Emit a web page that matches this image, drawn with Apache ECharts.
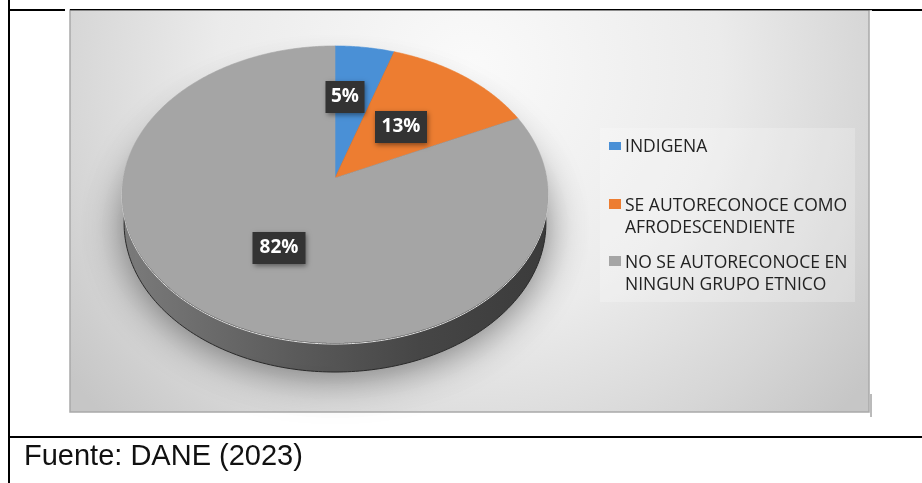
<!DOCTYPE html>
<html><head><meta charset="utf-8">
<style>html,body{margin:0;padding:0;background:#fff}#c{width:922px;height:483px}</style>
<script src="https://cdn.jsdelivr.net/npm/echarts@6/dist/echarts.min.js"></script>
</head><body><div id="c"></div>
<script>
const categories = ['INDIGENA', 'SE AUTORECONOCE COMO\nAFRODESCENDIENTE', 'NO SE AUTORECONOCE EN\nNINGUN GRUPO ETNICO'];
const shares = [5, 13, 82];
const sourceNote = 'Fuente: DANE (2023)';

const colors = ['#4a90d6', '#ed7d31', '#a5a5a5'];
const total = shares.reduce((a, b) => a + b, 0);
const CX = 335, CY = 178, A = 211.7, B = 146.7, K = 0.111, DEPTH = 29;
const labelCentres = [[345, 97], [401, 127], [279, 248]];

function project(theta, f, dy, sx) {
  const X = Math.sin(theta) * f, Y = Math.cos(theta) * f, w = 1 + K * Y;
  return [CX + A * X / w * (sx || 1), CY - B * Y / w + (dy || 0)];
}
function ring(dy, sx) {
  const p = [];
  for (let i = 0; i < 360; i++) p.push(project(i * Math.PI / 180, 1, dy, sx));
  return p;
}
function sliceAngles(i) {
  const before = shares.slice(0, i).reduce((a, b) => a + b, 0);
  return [before / total * 2 * Math.PI, (before + shares[i]) / total * 2 * Math.PI];
}

function renderPie(params, api) {
  const i = api.value(2);
  const [t0, t1] = sliceAngles(i);
  const pts = [[CX, CY]];
  const n = Math.max(8, Math.round((t1 - t0) * 120));
  for (let s = 0; s <= n; s++) pts.push(project(t0 + (t1 - t0) * s / n, 1));
  const children = [];
  if (i === 0) {
    children.push({
      type: 'polygon', shape: { points: ring(DEPTH, 0.99) },
      style: {
        fill: new echarts.graphic.LinearGradient(0, 0, 1, 0, [
          { offset: 0, color: '#7c7c7c' }, { offset: 0.4, color: '#5c5c5c' },
          { offset: 0.7, color: '#474747' }, { offset: 1, color: '#3c3c3c' }]),
        stroke: '#2a2a2a', lineWidth: 1,
        shadowBlur: 40, shadowColor: 'rgba(0,0,0,0.5)', shadowOffsetY: 4
      }
    });
    children.push({
      type: 'polygon', shape: { points: ring(1) },
      style: { fill: '#1f1f1f', stroke: '#e4e4e4', lineWidth: 1 }
    });
  }
  children.push({
    type: 'polygon', shape: { points: pts },
    style: { fill: colors[i], stroke: colors[i], lineWidth: 0.6 }
  });
  return { type: 'group', children };
}

function renderLabels(params, api) {
  const i = api.value(2);
  const [x, y] = labelCentres[i];
  const w = shares[i] < 10 ? 39 : (i === 1 ? 52 : 53), h = 32;
  return {
    type: 'group', z2: 50, children: [
      { type: 'rect', shape: { x: x - w / 2, y: y - h / 2, width: w, height: h },
        style: { fill: '#333333', shadowBlur: 5, shadowColor: 'rgba(0,0,0,0.45)', shadowOffsetX: 1, shadowOffsetY: 2 } },
      { type: 'text', x, y,
        style: { text: api.value(1) + '%', fill: '#ffffff', font: 'bold 19px "Open Sans"', align: 'center', verticalAlign: 'middle' } }
    ]
  };
}

const legendRows = [145, 204, 261];
const legendGraphics = [];
categories.forEach((c, i) => {
  legendGraphics.push({ type: 'rect', z: 10, shape: { x: 609, y: legendRows[i] - (i === 0 ? 3 : 5), width: 12, height: i === 0 ? 8 : 10 }, style: { fill: colors[i] } });
  legendGraphics.push({ type: 'text', z: 10, x: 625, y: legendRows[i] - 9,
    style: { text: c, fill: '#222222', font: '17.5px "Open Sans"', lineHeight: 22 } });
});

const chart = echarts.init(document.getElementById('c'));
chart.setOption({
  animation: false,
  backgroundColor: '#ffffff',
  graphic: [
    { type: 'rect', z: 0, shape: { x: 70, y: 10, width: 799, height: 402 },
      style: {
        fill: new echarts.graphic.RadialGradient(0.5, 0.15, 1.25, [
          { offset: 0, color: '#fafafa' }, { offset: 0.5, color: '#ebebeb' },
          { offset: 0.8, color: '#d6d6d6' }, { offset: 1, color: '#c6c6c6' }]),
        stroke: '#a9a9a9', lineWidth: 1.5
      } },
    { type: 'rect', z: 1, shape: { x: 600, y: 128, width: 255, height: 174 }, style: { fill: 'rgba(255,255,255,0.22)' } },
    { type: 'rect', z: 2, shape: { x: 70, y: 9, width: 802, height: 1.2 }, style: { fill: '#000' } },
    { type: 'line', z: 3, shape: { x1: 871, y1: 394, x2: 871, y2: 417 }, style: { stroke: '#777', lineWidth: 1 } },
    { type: 'rect', z: 3, shape: { x: 8, y: 0, width: 2, height: 483 }, style: { fill: '#000' } },
    { type: 'rect', z: 3, shape: { x: 8, y: 9, width: 57, height: 2 }, style: { fill: '#000' } },
    { type: 'rect', z: 3, shape: { x: 872, y: 9, width: 50, height: 2 }, style: { fill: '#000' } },
    { type: 'rect', z: 3, shape: { x: 8, y: 436, width: 914, height: 2 }, style: { fill: '#000' } },
    { type: 'text', z: 3, x: 24, y: 457, style: { text: sourceNote, fill: '#111', font: '29px "Liberation Sans"', verticalAlign: 'middle' } },
    ...legendGraphics
  ],
  series: [
    { type: 'custom', name: 'Pie', coordinateSystem: 'none', z: 5, renderItem: renderPie,
      data: categories.map((c, i) => [c, shares[i], i]) },
    { type: 'custom', name: 'Labels', coordinateSystem: 'none', z: 6, renderItem: renderLabels,
      data: categories.map((c, i) => [c, shares[i], i]) }
  ]
});
</script></body></html>
